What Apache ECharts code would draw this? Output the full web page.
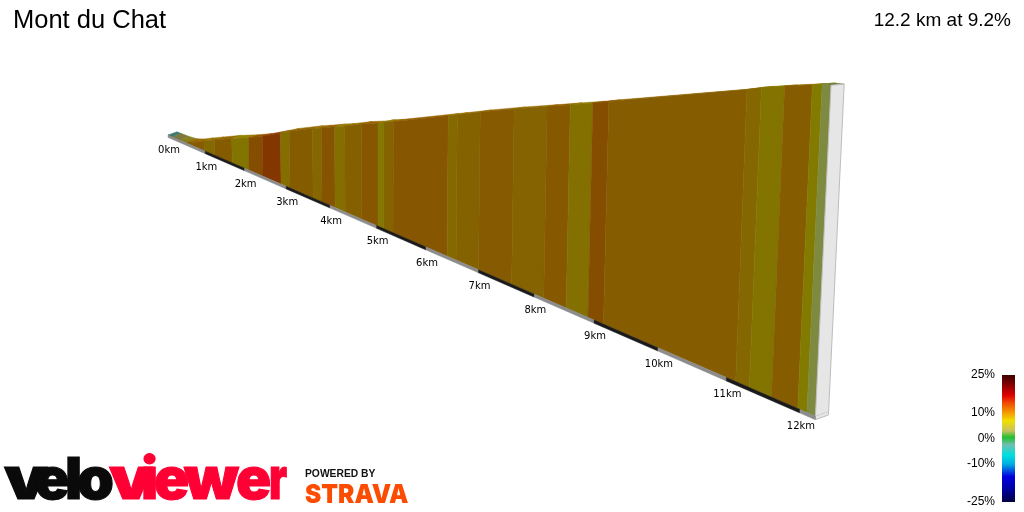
<!DOCTYPE html>
<html>
<head>
<meta charset="utf-8">
<style>
  html, body { margin: 0; padding: 0; background: #fff; }
  #chart { width: 1024px; height: 512px; }
</style>
<script src="https://cdn.jsdelivr.net/npm/echarts@6/dist/echarts.min.js"></script>
</head>
<body>
<div id="chart"></div>
<script>
// stripe limits along the climb
const stripeKm = [0, 0.12, 0.33, 0.54, 0.73, 0.97, 1.25, 1.69, 2.11, 2.45, 2.88, 3.09, 3.62, 3.82, 4.11, 4.33, 4.69, 5.03, 5.15, 5.34, 6.41, 6.58, 7.0, 7.6, 8.16, 8.54, 8.9, 9.15, 11.13, 11.32, 11.62, 11.97, 12.09, 12.2]
const stripeElev = [0, 1, 3, 8, 22, 47, 74, 117, 153, 186, 236, 261, 315, 333, 361, 381, 418, 447, 462, 478, 586, 603, 646, 704, 756, 792, 825, 850, 1040, 1061, 1088, 1118, 1129, 1133]
const stripeGrade = [-3, 3, 5, 9.5, 9.5, 8.5, 9.6, 7.5, 10.8, 12.8, 8, 9.6, 8.6, 10.2, 8, 9.2, 10, 7.2, 8.8, 10, 8.4, 9, 9.7, 8.9, 9.8, 7.8, 10.8, 9.4, 8.6, 7.5, 9.5, 7, 2.6]
const kmTicks = [0, 1, 2, 3, 4, 5, 6, 7, 8, 9, 10, 11, 12]
const baseBands = [0, 1, 2, 3, 4, 5, 6, 7, 8, 9, 10, 11, 12, 12.2]
const gradeValues = [25, 21, 17, 14, 10, 7, 3, 0.5, -2.5, -6.5, -10, -15, -20, -25]
const gradeColors = ['#3c0000', '#8a0000', '#e00000', '#f04a00', '#f59e00', '#f0e000', '#c8c060', '#20c030', '#70c0b0', '#00e0e0', '#00b0e0', '#0000e0', '#0000a0', '#000040']
const gradeLabels = [25, 10, 0, -10, -25]

function gradeColor(g, dim) {
  let i = 0
  while (i < gradeValues.length - 2 && g < gradeValues[i + 1]) i++
  const t = (gradeValues[i] - g) / (gradeValues[i] - gradeValues[i + 1])
  const c = echarts.color.parse(echarts.color.lerp(t, [gradeColors[i], gradeColors[i + 1]]))
  return 'rgb(' + [c[0], c[1], c[2]].map(v => Math.round(v * dim)).join(',') + ')'
}

// perspective of the wall: km along the road, elev up, depth across
function project(km, elev, depth) {
  const w = 1 - 0.02585 * km
  const xb = (31.99 * km + 168) / w
  const yb = 135 + 0.4343 * (xb - 168)
  const h = 0.2 * elev / w
  return [
    xb + (xb - 378) * h / 9280 + 9 * depth / w,
    yb - h - (3.2 - 0.0022 * elev) * depth / w
  ]
}

const BASE = -12
const SUMMIT = stripeGrade.length - 1
const stripes = stripeGrade.map((g, i) => [stripeKm[i], stripeElev[i], stripeKm[i + 1], stripeElev[i + 1], g])
const bands = baseBands.slice(0, -1).map((k, i) => [k, baseBands[i + 1], i])

function polygon(api, pts, fill, stroke, lw) {
  return {
    type: 'polygon',
    shape: { points: pts.map(p => api.coord(p)) },
    style: { fill: fill, stroke: stroke || fill, lineWidth: lw === undefined ? 0.5 : lw }
  }
}

// the logo letters sit tighter than any installed font
function logoLetter(ch, x, sx, fill) {
  return {
    type: 'text', x: x, y: 453, scaleX: sx,
    style: { x: 0, y: 0, text: ch, font: '900 58px Inter', fill: fill, stroke: fill, lineWidth: 1 }
  }
}
const RED = '#ff0035', BLACK = '#0a0a0a'

const option = {
  animation: false,
  backgroundColor: '#fff',
  title: [
    { text: 'Mont du Chat', left: 8, top: 3, textStyle: { fontFamily: 'Liberation Sans', fontSize: 25.5, fontWeight: 'normal', color: '#000' } },
    { text: '12.2 km at 9.2%', right: 8, top: 6, textStyle: { fontFamily: 'Liberation Sans', fontSize: 19, fontWeight: 'normal', color: '#000' } }
  ],
  grid: [
    { left: 0, top: 0, width: 1024, height: 512 },
    { left: 1002, top: 375, width: 13, height: 127 }
  ],
  xAxis: [
    { type: 'value', min: 0, max: 1024, show: false, gridIndex: 0 },
    { type: 'value', min: 0, max: 1, show: false, gridIndex: 1 }
  ],
  yAxis: [
    { type: 'value', min: 0, max: 512, inverse: true, show: false, gridIndex: 0 },
    {
      type: 'value', min: -25, max: 25, gridIndex: 1,
      axisLine: { show: false }, axisTick: { show: false }, splitLine: { show: false },
      axisLabel: { customValues: gradeLabels, formatter: '{value}%', margin: 7, fontFamily: 'Liberation Sans', fontSize: 12, color: '#000' }
    }
  ],
  series: [
    {
      // road surface seen above the wall
      type: 'custom', clip: false, silent: true, data: stripes,
      renderItem(params, api) {
        const [k0, e0, k1, e1, g] = stripes[params.dataIndex]
        return polygon(api, [project(k0, e0, 0), project(k1, e1, 0), project(k1, e1, 1), project(k0, e0, 1)], gradeColor(g, 0.62))
      }
    },
    {
      // the wall itself
      type: 'custom', clip: false, silent: true, data: stripes,
      renderItem(params, api) {
        const [k0, e0, k1, e1, g] = stripes[params.dataIndex]
        const dim = params.dataIndex === SUMMIT ? 0.72 : 0.545
        return polygon(api, [project(k0, 0, 0), project(k1, 0, 0), project(k1, e1, 0), project(k0, e0, 0)], gradeColor(g, dim))
      }
    },
    {
      // end face
      type: 'custom', clip: false, silent: true, data: [[12.2, 1133]],
      renderItem(params, api) {
        const k = 12.2, e = stripeElev[SUMMIT + 1]
        return {
          type: 'group',
          children: [
            polygon(api, [project(k, BASE, 0), project(k, BASE, 1), project(k, e, 1), project(k, e, 0)], '#e6e6e6', '#bdbdbd', 1),
            {
              type: 'polyline',
              shape: { points: [project(k, 0, 0), project(k, 0, 1)].map(p => api.coord(p)) },
              style: { fill: null, stroke: '#cfcfcf', lineWidth: 1 }
            }
          ]
        }
      }
    },
    {
      // black and grey km bands under the wall
      type: 'custom', clip: false, silent: true, data: bands,
      renderItem(params, api) {
        const [k0, k1, i] = bands[params.dataIndex]
        const c = i % 2 ? '#1a1a1a' : '#8c8c8c'
        return polygon(api, [project(k0, 0, 0), project(k1, 0, 0), project(k1, BASE, 0), project(k0, BASE, 0)], c)
      }
    },
    {
      type: 'custom', clip: false, silent: true, data: kmTicks,
      renderItem(params, api) {
        const k = kmTicks[params.dataIndex]
        const p = api.coord(project(k, BASE, 0))
        return {
          type: 'text',
          style: {
            x: p[0] + 1, y: p[1] + 13.5, text: k + 'km', align: 'center', verticalAlign: 'middle',
            font: '10px "DejaVu Sans"', fill: '#000'
          }
        }
      }
    },
    {
      // colour key
      type: 'custom', xAxisIndex: 1, yAxisIndex: 1, clip: false, silent: true, data: [[0, 25, 1, -25]],
      renderItem(params, api) {
        const a = api.coord([0, 25]), b = api.coord([1, -25])
        return {
          type: 'rect',
          shape: { x: a[0], y: a[1], width: b[0] - a[0], height: b[1] - a[1] },
          style: {
            fill: new echarts.graphic.LinearGradient(0, 0, 0, 1,
              gradeValues.map((g, i) => ({ offset: (25 - g) / 50, color: gradeColors[i] })))
          }
        }
      }
    }
  ],
  graphic: [
    logoLetter('v', 4, 1.2, BLACK),
    logoLetter('e', 35, 0.98, BLACK),
    logoLetter('l', 65, 1.0, BLACK),
    logoLetter('o', 77, 1.02, BLACK),
    logoLetter('v', 109, 1.2, RED),
    logoLetter('i', 141, 1.0, RED),
    logoLetter('e', 154, 1.0, RED),
    logoLetter('w', 184, 1.08, RED),
    logoLetter('e', 236, 1.0, RED),
    logoLetter('r', 269, 0.72, RED),
    { type: 'text', x: 305, y: 469, scaleX: 1.03, style: { x: 0, y: 0, text: 'POWERED BY', font: 'bold 10px "Liberation Sans"', fill: '#111' } },
    { type: 'text', x: 305, y: 482, scaleX: 0.94, style: { x: 0, y: 0, text: 'STRAVA', font: '900 26px Inter', fill: '#fc4c02' } }
  ]
}

const myChart = echarts.init(document.getElementById('chart'), null, { renderer: 'canvas' })
myChart.setOption(option)
</script>
</body>
</html>
